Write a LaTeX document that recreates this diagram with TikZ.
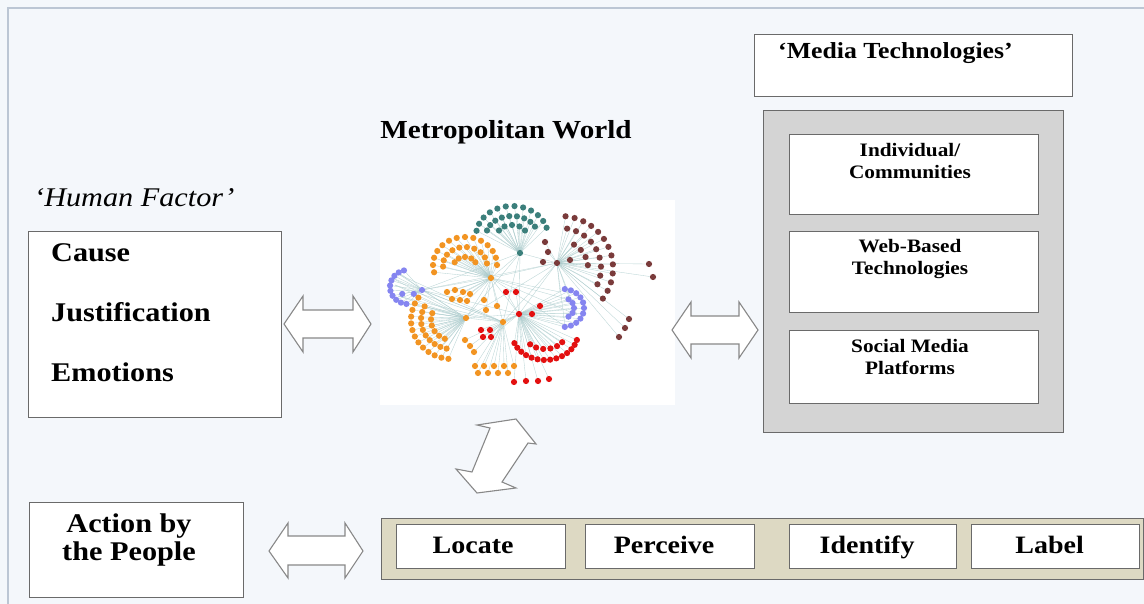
\documentclass[tikz,border=0pt]{standalone}
\usepackage{fontspec}
\setmainfont{Liberation Serif}[FakeStretch=1.12]
\pgfdeclarelayer{bg}
\pgfdeclarelayer{edges}
\pgfsetlayers{bg,edges,main}
\definecolor{pagebg}{HTML}{F4F7FB}
\definecolor{framec}{HTML}{BCC6D4}
\definecolor{boxline}{HTML}{6A6A6A}
\definecolor{grayfill}{HTML}{D4D4D4}
\definecolor{stripfill}{HTML}{DDD9C3}
\definecolor{cteal}{HTML}{3B7F7B}
\definecolor{cbrown}{HTML}{7A3B3B}
\definecolor{corange}{HTML}{F29422}
\definecolor{cblue}{HTML}{8585F0}
\definecolor{cred}{HTML}{E31010}
\definecolor{edgec}{HTML}{A9CACB}
\tikzset{
  wbox/.style={draw=boxline, line width=1.2pt, fill=white},
  barrow/.style={draw=boxline!80, line width=1.1pt, fill=white, line join=miter},
  edge/.style={draw=edgec, line width=0.35pt, opacity=0.8},
  lbl/.style={inner sep=0pt, font=\bfseries\fontsize{25}{28}\selectfont},
}
\newcommand{\dotr}{3.1}
% colour, hub, cx, cy, rx, ry, a0, a1, a2
\newcommand{\arcd}[9]{%
  \foreach \a in {#7,#8,...,#9}{%
    \begin{pgfonlayer}{edges}\draw[edge] (#2) -- ({#3+#5*cos(\a)},{#4+#6*sin(\a)});\end{pgfonlayer}
    \fill[#1] ({#3+#5*cos(\a)},{#4+#6*sin(\a)}) circle (\dotr);
  }}
% colour, hub, list of points
\newcommand{\ptsd}[3]{%
  \foreach \p in {#3}{%
    \begin{pgfonlayer}{edges}\draw[edge] (#2) -- \p;\end{pgfonlayer}
    \fill[#1] \p circle (\dotr);
  }}
\begin{document}
\begin{tikzpicture}[x=1pt,y=-1pt]
\useasboundingbox (0,0) rectangle (1144,604);
\begin{pgfonlayer}{bg}
\fill[pagebg] (0,0) rectangle (1144,604);
\draw[framec, line width=1.2pt] (8,604) -- (8,8) -- (1144,8);
\fill[white] (380,200) rectangle (675,405);
\end{pgfonlayer}

% ---------- left ----------
\node[anchor=base west, inner sep=0pt, font=\itshape\fontsize{27}{29}\selectfont] (hf) at (34,207) {‘Human Factor’};
\node[wbox, minimum width=253, minimum height=186, anchor=north west] (hbox) at (28,231) {};
\node[lbl, anchor=base west, font=\bfseries\fontsize{27}{29}\selectfont] (cause) at (51,262) {Cause};
\node[lbl, anchor=base west, font=\bfseries\fontsize{27}{29}\selectfont] (just) at (51,322) {Justification};
\node[lbl, anchor=base west, font=\bfseries\fontsize{27}{29}\selectfont] (emo) at (51,381) {Emotions};

% ---------- centre ----------
\node[lbl, anchor=base, font=\bfseries\fontsize{26}{28}\selectfont] (metro) at (506,139) {Metropolitan World};

% network
\coordinate (hT) at (520,253);
\coordinate (hB) at (557,263);
\coordinate (hO1) at (491,278);
\coordinate (hO2) at (466,318);
\coordinate (hO3) at (503,322);
\coordinate (hBl) at (422,290);
\coordinate (hR) at (519,314);
\begin{pgfonlayer}{edges}
\foreach \u/\v in {hT/hB,hT/hO1,hT/hO2,hT/hO3,hT/hBl,hT/hR,hB/hO1,hB/hO2,hB/hO3,hB/hBl,hB/hR,hO1/hO2,hO1/hO3,hO1/hBl,hO1/hR,hO2/hO3,hO2/hBl,hO2/hR,hO3/hBl,hO3/hR,hBl/hR}
  \draw[edge] (\u) -- (\v);
\foreach \p in {(400,275),(395,285),(398,296),(405,303),(392,278)}{
  \draw[edge] (hO2) -- \p; \draw[edge] (hO3) -- \p;}
\foreach \p in {(560,292),(570,300),(577,315),(565,326)}{
  \draw[edge] (hB) -- \p; \draw[edge] (hO1) -- \p;}
\end{pgfonlayer}
% teal
\arcd{cteal}{hT}{512}{236}{36}{30}{190}{204}{350}
\arcd{cteal}{hT}{512}{236}{26}{20}{196}{213}{345}
\arcd{cteal}{hT}{512}{236}{15}{11}{210}{240}{330}
% brown
\arcd{cbrown}{hB}{560}{268}{53}{52}{-84}{-74}{36}
\arcd{cbrown}{hB}{560}{268}{41}{40}{-80}{-67}{30}
\arcd{cbrown}{hB}{560}{268}{28}{27}{-60}{-42}{10}
\ptsd{cbrown}{hB}{(649,264),(653,277),(629,319),(625,328),(619,337),(545,242),(543,262),(570,260),(548,252)}
% orange upper
\arcd{corange}{hO1}{465}{265}{32}{28}{165}{180}{360}
\arcd{corange}{hO1}{465}{265}{22}{18}{175}{195}{355}
\arcd{corange}{hO1}{465}{265}{11}{8}{200}{235}{340}
% orange lower-left
\arcd{corange}{hO2}{452}{320}{41}{39}{95}{105}{215}
\arcd{corange}{hO2}{452}{320}{31}{29}{100}{112}{210}
\arcd{corange}{hO2}{452}{320}{21}{20}{110}{128}{200}
% orange middle & bottom
\ptsd{corange}{hO1}{(447,292),(455,290),(463,292),(470,294),(452,299),(460,300),(467,301),(484,300),(486,310),(497,306)}
\ptsd{corange}{hO3}{(475,366),(484,366),(494,366),(504,366),(514,366),(478,373),(488,373),(498,373),(508,373),(465,340),(470,346),(474,352)}
% blue left
\arcd{cblue}{hBl}{408}{287}{18}{17}{95}{113}{265}
\arcd{cblue}{hBl}{408}{287}{9}{9}{130}{50}{230}
% blue right
\arcd{cblue}{hR}{563}{308}{21}{19}{-85}{-68}{85}
\arcd{cblue}{hR}{563}{308}{11}{10}{-60}{-30}{60}
% red
\arcd{cred}{hR}{545}{333}{33}{27}{15}{26}{165}
\arcd{cred}{hR}{545}{333}{21}{16}{35}{55}{145}
\ptsd{cred}{hR}{(514,382),(526,381),(538,381),(549,379),(506,292),(516,292),(540,306),(532,314),(481,330),(490,330),(483,337),(491,337)}
\fill[cteal] (hT) circle (\dotr);
\fill[cbrown] (hB) circle (\dotr);
\fill[corange] (hO1) circle (\dotr);
\fill[corange] (hO2) circle (\dotr);
\fill[corange] (hO3) circle (\dotr);
\fill[cblue] (hBl) circle (\dotr);
\fill[cred] (hR) circle (\dotr);
\node[inner sep=0pt, minimum width=295, minimum height=205, anchor=north west] (net) at (380,200) {};

% ---------- right ----------
\node[wbox, minimum width=318, minimum height=62, anchor=north west] (mtbox) at (754,34) {};
\node[lbl, anchor=base west, font=\bfseries\fontsize{23}{25}\selectfont] (mt) at (778,59) {‘Media Technologies’};
\node[draw=boxline, line width=1.2pt, fill=grayfill, minimum width=300, minimum height=322, anchor=north west] (gbox) at (763,110) {};
\node[wbox, minimum width=249, minimum height=80, anchor=north west] (b1) at (789,134) {};
\node[wbox, minimum width=249, minimum height=81, anchor=north west] (b2) at (789,231) {};
\node[wbox, minimum width=249, minimum height=73, anchor=north west] (b3) at (789,330) {};
\node[lbl, align=center, font=\bfseries\fontsize{19}{22}\selectfont] (t1) at (910,161) {Individual/\\Communities};
\node[lbl, align=center, font=\bfseries\fontsize{19}{22}\selectfont] (t2) at (910,259) {Web-Based\\Technologies};
\node[lbl, align=center, font=\bfseries\fontsize{19}{22}\selectfont] (t3) at (910,357) {Social Media\\Platforms};

% ---------- bottom ----------
\node[wbox, minimum width=214, minimum height=95, anchor=north west] (abox) at (29,502) {};
\node[lbl, align=center, font=\bfseries\fontsize{27}{28}\selectfont] (atext) at (129,540) {Action by\\the People};
\node[draw=boxline, line width=1.2pt, fill=stripfill, minimum width=762, minimum height=61, anchor=north west] (strip) at (381,518) {};
\node[wbox, minimum width=169, minimum height=44, anchor=north west] (loc) at (396,524) {};
\node[wbox, minimum width=169, minimum height=44, anchor=north west] (per) at (585,524) {};
\node[wbox, minimum width=167, minimum height=44, anchor=north west] (ide) at (789,524) {};
\node[wbox, minimum width=168, minimum height=44, anchor=north west] (lab) at (971,524) {};
\node[lbl, anchor=base] at ([xshift=-8pt]loc.center |- 0,553) {Locate};
\node[lbl, anchor=base] at ([xshift=-6pt]per.center |- 0,553) {Perceive};
\node[lbl, anchor=base] at ([xshift=-6pt]ide.center |- 0,553) {Identify};
\node[lbl, anchor=base] at ([xshift=-6pt]lab.center |- 0,553) {Label};

% ---------- block arrows ----------
\draw[barrow] (284,324) -- (303,296) -- (303,310) -- (353,310) -- (353,296) -- (371,324)
  -- (353,352) -- (353,338) -- (303,338) -- (303,352) -- cycle;
\draw[barrow] (672,330) -- (691,302) -- (691,316) -- (739,316) -- (739,302) -- (758,330)
  -- (739,358) -- (739,344) -- (691,344) -- (691,358) -- cycle;
\draw[barrow] (269,551) -- (288,523) -- (288,536) -- (345,536) -- (345,523) -- (363,551)
  -- (345,578) -- (345,565) -- (288,565) -- (288,578) -- cycle;
\draw[barrow] (516,419) -- (536,444) -- (528,443) -- (502,482) -- (516,488) -- (477,493)
  -- (456,469) -- (472,472) -- (490,428) -- (477,425) -- cycle;
\end{tikzpicture}
\end{document}
